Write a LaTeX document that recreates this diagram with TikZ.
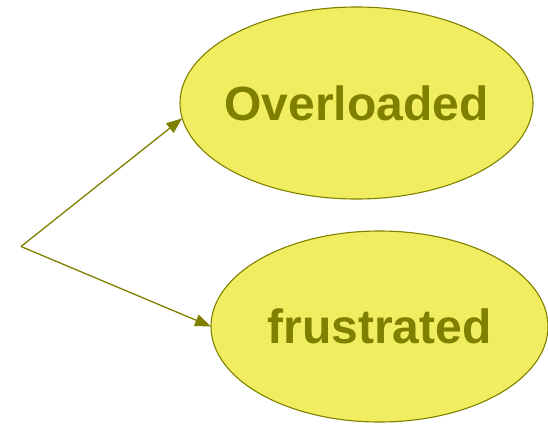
\documentclass[tikz,border=0pt]{standalone}
\usepackage{fontspec}
\setmainfont{Liberation Sans}
\usetikzlibrary{shapes.geometric,arrows.meta}
\definecolor{olivedark}{RGB}{128,128,0}
\definecolor{bubblefill}{RGB}{240,238,96}
\tikzset{
  bubble/.style={ellipse, draw=olivedark, fill=bubblefill, line width=1.1pt,
    inner sep=0pt, outer sep=0pt},
  bubbletext/.style={text=olivedark, font=\fontsize{48}{50}\selectfont\bfseries,
    inner sep=0pt},
  link/.style={draw=olivedark, line width=1.3pt,
    -{Triangle[length=16pt,width=12pt]}}
}
\begin{document}
\begin{tikzpicture}[x=1pt,y=-1pt]
  \useasboundingbox (0,0) rectangle (548,424);
  % two feeling bubbles
  \node[bubble, minimum width=353pt, minimum height=192pt] (over) at (356.5,103) {};
  \node[bubbletext] (overtxt) at (over.center) {Overloaded};
  \node[bubble, minimum width=337pt, minimum height=191pt] (frus) at (379.5,326.5) {};
  \node[bubbletext] (frustxt) at (frus.center) {frustrated};
  % branching arrows from a common point
  \coordinate (fork) at (21,246.5);
  \draw[link] (fork) -- (over.185);
  \draw[link] (fork) -- (frus.west);
\end{tikzpicture}
\end{document}
